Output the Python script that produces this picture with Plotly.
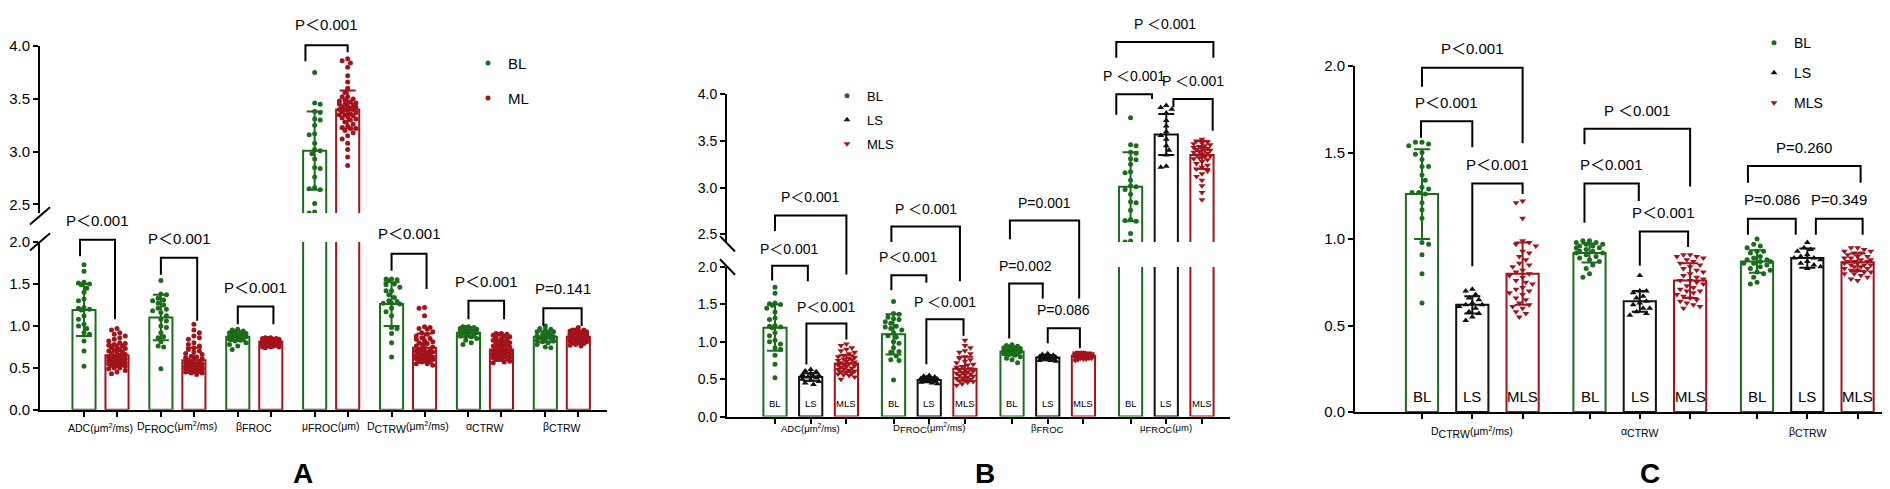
import plotly.graph_objects as go

W, H = 1890, 489
FONT = "Liberation Sans, Arial, Noto Sans CJK SC, sans-serif"
GREEN = "#1b6d1b"
RED = "#a3131b"
BLACK = "#111111"

# ---------------- data ----------------
PARAMS = ["ADC", "DFROC", "BFROC", "MUFROC", "DCTRW", "ACTRW", "BCTRW"]
# label parts: (symbol, subscript, unit)
LABELS = [
    ("ADC", "", "(μm<sup>2</sup>/ms)"),
    ("D", "FROC", "(μm<sup>2</sup>/ms)"),
    ("β", "FROC", ""),
    ("μ", "FROC", "(μm)"),
    ("D", "CTRW", "(μm<sup>2</sup>/ms)"),
    ("α", "CTRW", ""),
    ("β", "CTRW", ""),
]

BL_ADC = [1.73, 1.65, 1.52, 1.51, 1.50, 1.49, 1.45, 1.40, 1.32, 1.30, 1.22, 1.21, 1.20, 1.19, 1.12, 1.08, 1.02, 1.00, 0.97, 0.92, 0.90, 0.82, 0.70, 0.52]
LS_ADC = [0.63, 0.61, 0.60, 0.58, 0.56, 0.55, 0.54, 0.53, 0.52, 0.50, 0.49, 0.47, 0.45, 0.43]
MLS_ADC = [0.97, 0.95, 0.92, 0.90, 0.88, 0.86, 0.84, 0.82, 0.80, 0.79, 0.78, 0.77, 0.76, 0.75, 0.74, 0.73, 0.72, 0.71, 0.70, 0.69, 0.68, 0.67, 0.66, 0.65, 0.64, 0.63, 0.62, 0.61, 0.60, 0.59, 0.58, 0.57, 0.56, 0.55, 0.53, 0.50]

BL_DFROC = [1.54, 1.38, 1.37, 1.33, 1.31, 1.30, 1.27, 1.25, 1.21, 1.20, 1.18, 1.16, 1.12, 1.08, 1.06, 1.00, 0.98, 0.92, 0.87, 0.86, 0.81, 0.76, 0.75, 0.49]
LS_DFROC = [0.55, 0.54, 0.53, 0.52, 0.51, 0.50, 0.50, 0.49, 0.49, 0.48, 0.47, 0.46, 0.45, 0.44]
MLS_DFROC = [1.02, 0.95, 0.92, 0.88, 0.86, 0.84, 0.80, 0.78, 0.76, 0.74, 0.72, 0.70, 0.69, 0.67, 0.66, 0.64, 0.63, 0.62, 0.61, 0.60, 0.59, 0.58, 0.57, 0.56, 0.55, 0.54, 0.53, 0.52, 0.51, 0.50, 0.49, 0.48, 0.47, 0.46, 0.44, 0.42]

BL_BFROC = [0.96, 0.95, 0.94, 0.93, 0.92, 0.92, 0.91, 0.90, 0.90, 0.89, 0.88, 0.88, 0.87, 0.87, 0.86, 0.85, 0.85, 0.84, 0.83, 0.82, 0.80, 0.78, 0.76, 0.72]
LS_BFROC = [0.84, 0.83, 0.82, 0.81, 0.80, 0.80, 0.79, 0.78, 0.78, 0.77, 0.76, 0.75, 0.75, 0.74]
MLS_BFROC = [0.86, 0.86, 0.85, 0.85, 0.85, 0.84, 0.84, 0.84, 0.83, 0.83, 0.83, 0.83, 0.82, 0.82, 0.82, 0.82, 0.81, 0.81, 0.81, 0.81, 0.80, 0.80, 0.80, 0.80, 0.80, 0.79, 0.79, 0.79, 0.79, 0.78, 0.78, 0.78, 0.77, 0.77, 0.76, 0.75]

BL_MUFROC = [3.75, 3.46, 3.45, 3.38, 3.37, 3.31, 3.30, 3.25, 3.17, 3.16, 3.08, 3.02, 3.01, 2.98, 2.93, 2.85, 2.84, 2.76, 2.66, 2.65, 2.64, 2.51, 2.43, 2.42]
LS_MUFROC = [3.88, 3.86, 3.84, 3.80, 3.72, 3.66, 3.60, 3.56, 3.52, 3.45, 3.40, 3.35, 3.23, 3.22]
MLS_MUFROC = [3.52, 3.50, 3.49, 3.48, 3.47, 3.46, 3.45, 3.44, 3.43, 3.42, 3.42, 3.41, 3.40, 3.40, 3.39, 3.38, 3.37, 3.36, 3.35, 3.34, 3.33, 3.32, 3.31, 3.30, 3.28, 3.26, 3.24, 3.22, 3.20, 3.18, 3.15, 3.12, 3.08, 3.02, 2.95, 2.87]

BL_DCTRW = [1.56, 1.56, 1.55, 1.54, 1.50, 1.49, 1.46, 1.42, 1.42, 1.37, 1.34, 1.30, 1.29, 1.27, 1.27, 1.26, 1.21, 1.17, 1.12, 0.98, 0.97, 0.91, 0.80, 0.63]
LS_DCTRW = [0.71, 0.70, 0.68, 0.66, 0.65, 0.63, 0.62, 0.62, 0.61, 0.60, 0.58, 0.57, 0.55, 0.53]
MLS_DCTRW = [1.22, 1.21, 1.12, 0.99, 0.98, 0.97, 0.96, 0.93, 0.92, 0.90, 0.88, 0.86, 0.85, 0.84, 0.82, 0.81, 0.80, 0.79, 0.78, 0.76, 0.75, 0.74, 0.72, 0.71, 0.70, 0.69, 0.68, 0.66, 0.65, 0.63, 0.62, 0.61, 0.60, 0.58, 0.57, 0.55]

BL_ACTRW = [0.99, 0.99, 0.98, 0.98, 0.97, 0.97, 0.96, 0.96, 0.95, 0.95, 0.94, 0.93, 0.93, 0.92, 0.92, 0.91, 0.90, 0.89, 0.88, 0.87, 0.85, 0.83, 0.80, 0.78]
LS_ACTRW = [0.79, 0.70, 0.70, 0.69, 0.67, 0.66, 0.64, 0.63, 0.62, 0.60, 0.60, 0.58, 0.57, 0.56]
MLS_ACTRW = [0.91, 0.91, 0.90, 0.90, 0.89, 0.88, 0.87, 0.86, 0.85, 0.84, 0.83, 0.82, 0.81, 0.80, 0.79, 0.78, 0.77, 0.76, 0.76, 0.75, 0.74, 0.73, 0.72, 0.71, 0.70, 0.70, 0.69, 0.68, 0.67, 0.66, 0.65, 0.64, 0.63, 0.62, 0.61, 0.60]

BL_BCTRW = [1.00, 0.97, 0.96, 0.95, 0.93, 0.93, 0.92, 0.90, 0.89, 0.88, 0.88, 0.87, 0.87, 0.86, 0.86, 0.85, 0.84, 0.83, 0.82, 0.81, 0.80, 0.78, 0.75, 0.74]
LS_BCTRW = [0.98, 0.95, 0.94, 0.93, 0.91, 0.90, 0.89, 0.89, 0.88, 0.87, 0.86, 0.85, 0.84, 0.83]
MLS_BCTRW = [0.95, 0.95, 0.94, 0.93, 0.93, 0.92, 0.92, 0.91, 0.90, 0.90, 0.89, 0.89, 0.88, 0.88, 0.87, 0.87, 0.87, 0.86, 0.86, 0.85, 0.85, 0.85, 0.84, 0.84, 0.83, 0.83, 0.82, 0.82, 0.81, 0.81, 0.80, 0.80, 0.79, 0.78, 0.77, 0.76]

# bar heights (mean) and error bars (SD), in PARAMS order
BL_MEAN = [1.19, 1.10, 0.87, 3.01, 1.26, 0.92, 0.87]
BL_SD = [0.31, 0.27, 0.05, 0.37, 0.26, 0.055, 0.065]
LS_MEAN = [0.53, 0.49, 0.79, 3.57, 0.62, 0.64, 0.89]
LS_SD = [0.05, 0.03, 0.03, 0.22, 0.05, 0.06, 0.055]
MLS_MEAN = [0.71, 0.64, 0.815, 3.35, 0.80, 0.76, 0.866]
MLS_SD = [0.11, 0.16, 0.025, 0.15, 0.18, 0.10, 0.05]
ML_MEAN = [0.65, 0.59, 0.81, 3.40, 0.74, 0.72, 0.87]
ML_SD = [0.13, 0.15, 0.03, 0.18, 0.17, 0.10, 0.05]

BL_POINTS = [BL_ADC, BL_DFROC, BL_BFROC, BL_MUFROC, BL_DCTRW, BL_ACTRW, BL_BCTRW]
LS_POINTS = [LS_ADC, LS_DFROC, LS_BFROC, LS_MUFROC, LS_DCTRW, LS_ACTRW, LS_BCTRW]
MLS_POINTS = [MLS_ADC, MLS_DFROC, MLS_BFROC, MLS_MUFROC, MLS_DCTRW, MLS_ACTRW, MLS_BCTRW]
ML_POINTS = [a + b for a, b in zip(LS_POINTS, MLS_POINTS)]

GROUP_DATA = {
    "BL": (BL_MEAN, BL_SD, BL_POINTS),
    "ML": (ML_MEAN, ML_SD, ML_POINTS),
    "LS": (LS_MEAN, LS_SD, LS_POINTS),
    "MLS": (MLS_MEAN, MLS_SD, MLS_POINTS),
}

# significance brackets: (group, member1, dx1, member2, dx2, y_left, y_top, y_right, text, text_y, axis)
BRACKETS_A = [
    (0, 0, -0.12, 1, -0.06, 1.83, 2.026, 1.08, "P＜0.001", 2.25, "lo"),
    (1, 0, 0.0, 1, 0.10, 1.61, 1.81, 1.06, "P＜0.001", 2.04, "lo"),
    (2, 0, 0.0, 1, 0.08, 1.02, 1.23, 1.02, "P＜0.001", 1.46, "lo"),
    (3, 0, -0.28, 1, 0.0, 3.855, 4.007, 3.94, "P＜0.001", 4.20, "up"),
    (4, 0, 0.0, 1, 0.06, 1.655, 1.86, 1.44, "P＜0.001", 2.10, "lo"),
    (5, 0, 0.0, 1, 0.08, 1.08, 1.30, 1.08, "P＜0.001", 1.53, "lo"),
    (6, 0, -0.06, 1, 0.10, 1.00, 1.21, 1.00, "P=0.141", 1.44, "lo"),
]
BRACKETS_B = [
    (0, 0, -0.08, 1, -0.08, 1.82, 2.017, 1.81, "P＜0.001", 2.245, "lo"),
    (0, 0, 0.0, 2, 0.0, 2.48, 2.69, 1.90, "P＜0.001", 2.93, "lo"),
    (0, 1, -0.12, 2, 0.0, 0.697, 1.243, 1.03, "P＜0.001", 1.47, "lo"),
    (1, 0, -0.06, 1, -0.08, 1.69, 1.89, 1.79, "P＜0.001", 2.13, "lo"),
    (1, 0, -0.06, 2, -0.14, 2.335, 2.54, 1.81, "P ＜0.001", 2.77, "lo"),
    (1, 1, -0.08, 2, -0.04, 0.70, 1.30, 1.08, "P ＜0.001", 1.535, "lo"),
    (2, 0, -0.08, 1, -0.14, 1.045, 1.78, 1.58, "P=0.002", 2.02, "lo"),
    (2, 0, -0.06, 2, -0.12, 2.37, 2.62, 1.58, "P=0.001", 2.85, "lo"),
    (2, 1, 0.0, 2, -0.10, 0.98, 1.18, 0.915, "P=0.086", 1.42, "lo"),
    (3, 0, -0.40, 2, 0.32, 4.39, 4.56, 4.39, "P ＜0.001", 4.75, "up"),
    (3, 0, -0.40, 1, -0.40, 3.78, 4.00, 3.95, "P ＜0.001", 4.19, "up"),
    (3, 1, 0.20, 2, 0.30, 3.86, 3.95, 3.61, "P ＜0.001", 4.14, "up"),
]
BRACKETS_C = [
    (0, 0, 0.0, 2, 0.0, 1.88, 1.99, 1.554, "P＜0.001", 2.10, "lo"),
    (0, 0, -0.02, 1, 0.0, 1.585, 1.68, 1.53, "P＜0.001", 1.786, "lo"),
    (0, 1, 0.0, 2, 0.0, 0.842, 1.32, 1.26, "P＜0.001", 1.43, "lo"),
    (1, 0, -0.10, 2, 0.0, 1.548, 1.637, 1.303, "P ＜0.001", 1.743, "lo"),
    (1, 0, -0.10, 1, -0.02, 1.094, 1.32, 1.219, "P＜0.001", 1.428, "lo"),
    (1, 1, 0.0, 2, -0.04, 0.846, 1.043, 0.954, "P＜0.001", 1.152, "lo"),
    (2, 0, -0.18, 2, 0.06, 1.325, 1.422, 1.325, "P=0.260", 1.53, "lo"),
    (2, 0, -0.18, 1, -0.23, 1.024, 1.117, 1.024, "P=0.086", 1.226, "lo"),
    (2, 1, 0.17, 2, 0.10, 1.024, 1.117, 1.024, "P=0.349", 1.226, "lo"),
]

# ---------------- styling / layout ----------------
STYLE = {
    "BL": (GREEN, "circle", 5),
    "ML": (RED, "circle", 5),
    "LS": (BLACK, "triangle-up", 6),
    "MLS": (RED, "triangle-down", 6),
}

PANELS = [
    dict(params=[0, 1, 2, 3, 4, 5, 6], groups=["BL", "ML"], ids=("x", "y", "y2", "y3", "y4"),
         x_px=(32, 599), first=76, unit=33.0, gs=2.33, bw=0.70,
         lower=(407, 233, 0.0, 2.0), upper=(203, 30, 2.42, 4.0),
         tickfont=15, ptext=15, brackets=BRACKETS_A, inner=None, cat_y=425, cat_font=10.5,
         legend="legend", leg=(480, 43, 15, 35), diam=5.0, maxhalf=10.0,
         breaks=[((22, 215), (42, 197)), ((22, 242), (42, 224))], letter=("A", 295)),
    dict(params=[0, 1, 2, 3], groups=["BL", "LS", "MLS"], ids=("x2", "y5", "y6", "y7", "y8"),
         x_px=(719, 1222), first=767, unit=35.7, gs=3.32, bw=0.65,
         lower=(414, 259, 0.0, 2.0), upper=(233, 80, 2.42, 4.0),
         tickfont=14, ptext=14, brackets=BRACKETS_B, inner=(9.5, 0.18), cat_y=426, cat_font=9.5,
         legend="legend2", leg=(839, 77, 13, 24), diam=5.0, maxhalf=10.0,
         breaks=[((712, 227), (727, 243)), ((712, 251), (727, 267))], letter=("B", 977)),
    dict(params=[4, 5, 6], groups=["BL", "LS", "MLS"], ids=("x3", "y9", None, "y10", None),
         x_px=(1347, 1887), first=1414, unit=50.3, gs=3.33, bw=0.64,
         lower=(409.3, 50.7, 0.0, 2.0), upper=None,
         tickfont=15, ptext=15, brackets=BRACKETS_C, inner=(15, 0.09), cat_y=430, cat_font=10.5,
         legend="legend3", leg=(1766, 22, 14, 30), diam=6.0, maxhalf=14.0,
         breaks=[], letter=("C", 1642)),
]


def lk(aid):
    return aid[0] + "axis" + aid[1:]


def label_text(p, fs):
    sym, sub, unit = LABELS[p]
    s = sym
    if sub:
        s += "<sub><span style='font-size:%gpx'>%s</span></sub>" % (fs, sub)
    return s + unit


def swarm(vals, xu, yu, d, maxhalf):
    """Deterministic beeswarm: horizontal offsets (in x units) so dots do not overlap."""
    n = len(vals)
    order = sorted(range(n), key=lambda i: -vals[i])
    placed = []
    off = [0.0] * n
    step = d * 0.55
    kmax = max(int(maxhalf / step), 1)
    for j, i in enumerate(order):
        y = vals[i] * yu
        sgn = 1 if j % 2 == 0 else -1
        cands = [0]
        for s in range(1, kmax + 1):
            cands += [sgn * s, -sgn * s]
        best, bestd = 0.0, -1.0
        chosen = None
        for c in cands:
            x = c * step
            near = [(x - px) ** 2 + (y - py) ** 2 for px, py in placed if abs(py - y) < d]
            md = min(near) if near else 1e9
            if md >= d * d:
                chosen = x
                break
            if md > bestd:
                best, bestd = x, md
        if chosen is None:
            chosen = best
        placed.append((chosen, y))
        off[i] = chosen / xu
    return off


fig = go.Figure()
layout = dict(
    width=W, height=H, margin=dict(l=0, r=0, t=0, b=0),
    paper_bgcolor="white", plot_bgcolor="rgba(0,0,0,0)",
    barmode="overlay", font=dict(family=FONT, color="black"),
    showlegend=True,
)
annotations = []
shapes = []

for P in PANELS:
    xid, lo, up, loann, upann = P["ids"]
    x0px, x1px = P["x_px"]
    unit, first, gs = P["unit"], P["first"], P["gs"]
    params = P["params"]
    groups = P["groups"]
    ng = len(groups)
    xr = [(x0px - first) / unit, (x1px - first) / unit]
    allpos = [g * gs + m for g in range(len(params)) for m in range(ng)]
    layout[lk(xid)] = dict(
        domain=[x0px / W, x1px / W], range=xr, anchor=lo,
        showline=True, linewidth=2, linecolor="black",
        ticks="outside", ticklen=5, tickwidth=2, tickcolor="black",
        tickmode="array", tickvals=allpos, showticklabels=False,
        showgrid=False, zeroline=False, fixedrange=True,
    )
    yaxis_common = dict(
        anchor=xid, showline=True, linewidth=2, linecolor="black",
        ticks="outside", ticklen=5, tickwidth=2, tickcolor="black",
        tickfont=dict(size=P["tickfont"], color="black"), tickformat=".1f",
        showgrid=False, zeroline=False, fixedrange=True,
    )
    ly0, ly1, lr0, lr1 = P["lower"]
    lscale = (ly0 - ly1) / (lr1 - lr0)
    layout[lk(lo)] = dict(domain=[1 - ly0 / H, 1 - ly1 / H], range=[lr0, lr1 + 0.001],
                          tickvals=[0.0, 0.5, 1.0, 1.5, 2.0], **yaxis_common)
    layout[lk(loann)] = dict(domain=[1 - ly0 / H, 1.0], range=[lr0, lr0 + ly0 / lscale],
                             anchor=xid, visible=False, fixedrange=True)
    uscale = None
    if up:
        uy0, uy1, ur0, ur1 = P["upper"]
        uscale = (uy0 - uy1) / (ur1 - ur0)
        layout[lk(up)] = dict(domain=[1 - uy0 / H, 1 - uy1 / H], range=[ur0, ur1 + 0.001],
                              tickvals=[2.5, 3.0, 3.5, 4.0], **yaxis_common)
        layout[lk(upann)] = dict(domain=[1 - uy0 / H, 1.0], range=[ur0, ur0 + uy0 / uscale],
                                 anchor=xid, visible=False, fixedrange=True)

    yaxes = [lo] + ([up] if up else [])

    for gi, gname in enumerate(groups):
        col, sym, msz = STYLE[gname]
        means, sds, pts = GROUP_DATA[gname]
        xs = [g * gs + gi for g in range(len(params))]
        ys = [means[p] for p in params]
        es = [sds[p] for p in params]
        # bars
        for yid in yaxes:
            fig.add_trace(go.Bar(
                x=xs, y=ys, width=P["bw"], xaxis=xid, yaxis=yid,
                marker=dict(color="rgba(255,255,255,0)", line=dict(color=col, width=2)),
                showlegend=False, hoverinfo="skip"))
        # points (beeswarm)
        px_, py_ = [], []
        for g, p in enumerate(params):
            vals = pts[p]
            yu = uscale if (up and PARAMS[p] == "MUFROC") else lscale
            offs = swarm(vals, unit, yu, P["diam"], P["maxhalf"])
            px_ += [g * gs + gi + o for o in offs]
            py_ += list(vals)
        for yid in yaxes:
            fig.add_trace(go.Scatter(
                x=px_, y=py_, mode="markers", xaxis=xid, yaxis=yid,
                marker=dict(color=col, symbol=sym, size=msz, line=dict(width=0)),
                name=gname, legend=P["legend"], legendgroup=P["legend"] + gname,
                showlegend=(yid == lo), hoverinfo="skip"))
        # error bars (SD)
        for yid in yaxes:
            fig.add_trace(go.Scatter(
                x=xs, y=ys, mode="markers", xaxis=xid, yaxis=yid,
                marker=dict(size=1, opacity=0),
                error_y=dict(type="data", array=es, color=col, thickness=2, width=8),
                showlegend=False, hoverinfo="skip"))

    # brackets
    for axname, yid in (("lo", loann), ("up", upann)):
        if yid is None:
            continue
        bx, by = [], []
        for (g, m1, d1, m2, d2, yl, yt, yrr, txt, ty, ax) in P["brackets"]:
            if ax != axname:
                continue
            xa = g * gs + m1 + d1
            xb = g * gs + m2 + d2
            bx += [xa, xa, xb, xb, None]
            by += [yl, yt, yt, yrr, None]
            annotations.append(dict(
                x=(xa + xb) / 2, y=ty, xref=xid, yref=yid, text=txt, showarrow=False,
                font=dict(size=P["ptext"], color="black"), xanchor="center", yanchor="middle"))
        if bx:
            fig.add_trace(go.Scatter(
                x=bx, y=by, mode="lines", xaxis=xid, yaxis=yid,
                line=dict(color="black", width=2), showlegend=False, hoverinfo="skip"))

    # category labels under the axis
    for g, p in enumerate(params):
        annotations.append(dict(
            x=g * gs + (ng - 1) / 2, y=1 - P["cat_y"] / H, xref=xid, yref="paper",
            text=label_text(p, P["cat_font"]), showarrow=False,
            font=dict(size=P["cat_font"], color="black"),
            xanchor="center", yanchor="middle"))

    # group labels inside bars
    if P["inner"]:
        fsz, yv = P["inner"]
        for g in range(len(params)):
            for gi, gname in enumerate(groups):
                annotations.append(dict(
                    x=g * gs + gi, y=yv, xref=xid, yref=lo, text=gname, showarrow=False,
                    font=dict(size=fsz, color="black"), xanchor="center", yanchor="middle"))

    # axis break marks
    for (a, b) in P["breaks"]:
        shapes.append(dict(type="line", xref="paper", yref="paper",
                           x0=a[0] / W, y0=1 - a[1] / H, x1=b[0] / W, y1=1 - b[1] / H,
                           line=dict(color="black", width=2)))

    # panel letter
    letter, lx = P["letter"]
    annotations.append(dict(x=lx / W, y=1 - 473 / H, xref="paper", yref="paper",
                            text="<b>%s</b>" % letter, showarrow=False,
                            font=dict(size=28, color="black"), xanchor="center", yanchor="middle"))

    # legend
    mx, my, lfs, lsp = P["leg"]
    item_h = lfs * 1.3 + 3
    layout[P["legend"]] = dict(
        x=(mx - 20) / W, y=1 - (my - item_h / 2 - 1) / H, xanchor="left", yanchor="top",
        font=dict(size=lfs, color="black"), bgcolor="rgba(0,0,0,0)",
        tracegroupgap=max(lsp - item_h, 0), itemsizing="trace")

layout["annotations"] = annotations
layout["shapes"] = shapes
fig.update_layout(**layout)
fig.write_html("out.html")
